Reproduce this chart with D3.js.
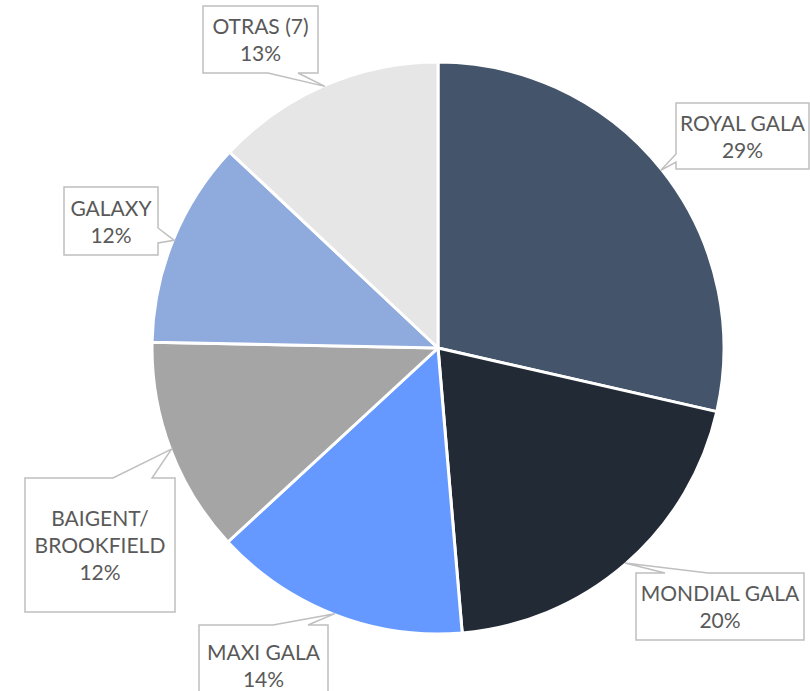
<!DOCTYPE html>
<html>
<head>
<meta charset="utf-8">
<script src="https://cdn.jsdelivr.net/npm/d3@7"></script>
<style>
  body { margin: 0; background: #fff; }
  svg { display: block; }
</style>
</head>
<body>
<svg width="810" height="691"></svg>
<script>
// Variedades (orden horario desde las 12)
const varieties = ["ROYAL GALA", "MONDIAL GALA", "MAXI GALA", "BAIGENT/BROOKFIELD", "GALAXY", "OTRAS (7)"];
const shares = [28.6, 20.1, 14.5, 12.2, 11.7, 13.0];
const shareLabels = ["29%", "20%", "14%", "12%", "12%", "13%"];
const labelLines = [["ROYAL GALA"], ["MONDIAL GALA"], ["MAXI GALA"], ["BAIGENT/", "BROOKFIELD"], ["GALAXY"], ["OTRAS (7)"]];
const colors = ["#44546A", "#222A35", "#6699FF", "#A5A5A5", "#8FAADC", "#E7E6E6"];

// callout boxes: x, y, w, h, and which side the pointer leaves from
const boxes = [
  { x: 676, y: 103, w: 133, h: 66, side: "left", b0: 154, b1: 162 },
  { x: 636, y: 573, w: 168, h: 67, side: "top", b0: 665, b1: 708 },
  { x: 199, y: 625, w: 129, h: 80, side: "top", b0: 273, b1: 308 },
  { x: 25, y: 478, w: 150, h: 134, side: "top", b0: 113, b1: 152 },
  { x: 64, y: 187, w: 94, h: 68, side: "right", b0: 228, b1: 243 },
  { x: 203, y: 6, w: 115, h: 67, side: "bottom", b0: 268, b1: 298 },
];

const svg = d3.select("svg");
const cx = 438, cy = 348, radius = 286;

const data = varieties.map((v, i) => ({ name: v, value: shares[i], i }));

const pie = d3.pie().sort(null).value((d) => d.value);
const arc = d3.arc().innerRadius(0).outerRadius(radius);
const tipArc = d3.arc().innerRadius(radius - 1).outerRadius(radius - 1);

const arcs = pie(data);

const g = svg.append("g").attr("transform", `translate(${cx},${cy})`);

g.selectAll("path")
  .data(arcs)
  .enter()
  .append("path")
  .attr("d", arc)
  .attr("fill", (d) => colors[d.data.i])
  .attr("stroke", "#fff")
  .attr("stroke-width", 3)
  .attr("stroke-linejoin", "round");

// Callouts
function calloutPath(b, tip) {
  const x0 = b.x, y0 = b.y, x1 = b.x + b.w, y1 = b.y + b.h;
  const [tx, ty] = tip;
  if (b.side === "left")
    return `M${x0},${y0}H${x1}V${y1}H${x0}V${b.b1}L${tx},${ty}L${x0},${b.b0}Z`;
  if (b.side === "right")
    return `M${x0},${y0}H${x1}V${b.b0}L${tx},${ty}L${x1},${b.b1}V${y1}H${x0}Z`;
  if (b.side === "top")
    return `M${x0},${y0}H${b.b0}L${tx},${ty}L${b.b1},${y0}H${x1}V${y1}H${x0}Z`;
  return `M${x0},${y0}H${x1}V${y1}H${b.b1}L${tx},${ty}L${b.b0},${y1}H${x0}Z`;
}

const labels = svg.append("g");

arcs.forEach((d) => {
  const i = d.data.i;
  const b = boxes[i];
  const c = tipArc.centroid(d);
  const tip = [c[0] + cx, c[1] + cy];

  labels
    .append("path")
    .attr("d", calloutPath(b, tip))
    .attr("fill", "#fff")
    .attr("stroke", "#BFBFBF")
    .attr("stroke-width", 1.5);

  const lines = labelLines[i].concat([shareLabels[i]]);
  const lh = 27;
  const midY = b.y + b.h / 2;
  const startY = midY - ((lines.length - 1) * lh) / 2 + 8;

  const t = labels
    .append("text")
    .attr("text-anchor", "middle")
    .attr("font-family", "Lato, 'Liberation Sans', sans-serif")
    .attr("font-size", 21)
    .attr("fill", "#595959");

  lines.forEach((ln, k) => {
    t.append("tspan")
      .attr("x", b.x + b.w / 2)
      .attr("y", startY + k * lh)
      .text(ln);
  });
});
</script>
</body>
</html>
